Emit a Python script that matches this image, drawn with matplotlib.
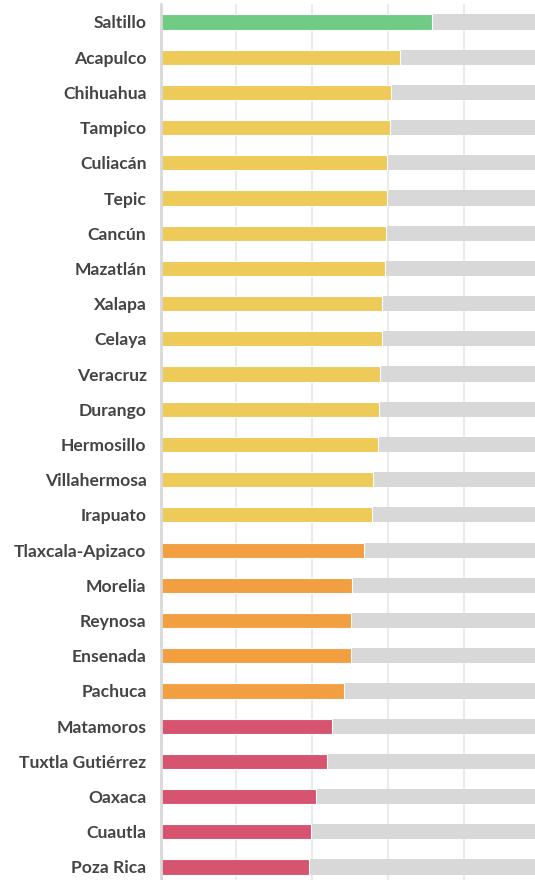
import matplotlib
matplotlib.use("Agg")
import matplotlib.pyplot as plt

# cities, top to bottom
cities = ["Saltillo", "Acapulco", "Chihuahua", "Tampico", "Culiacán", "Tepic",
          "Cancún", "Mazatlán", "Xalapa", "Celaya", "Veracruz", "Durango",
          "Hermosillo", "Villahermosa", "Irapuato", "Tlaxcala-Apizaco", "Morelia",
          "Reynosa", "Ensenada", "Pachuca", "Matamoros", "Tuxtla Gutiérrez",
          "Oaxaca", "Cuautla", "Poza Rica"]

values = [71.5, 63.0, 60.7, 60.5, 59.7, 59.7, 59.4, 59.2, 58.4, 58.4, 57.8, 57.6,
          57.3, 56.0, 55.7, 53.6, 50.5, 50.2, 50.2, 48.4, 45.2, 43.9, 41.0, 39.7, 39.1]

groups = ["high"] + ["mid"] * 14 + ["low"] * 5 + ["lowest"] * 5

group_colors = {"high": "#70cb84", "mid": "#eeca58", "low": "#f19f41", "lowest": "#d6546f"}

max_value = 100

fig = plt.figure(figsize=(5.35, 8.8), dpi=100)
ax = fig.add_axes([160.5 / 535, 0, 1 - 160.5 / 535, 1 - 4 / 880])

y = list(range(len(cities)))
bar_h = 0.43

# grey background bars (full scale)
ax.barh(y, [max_value] * len(cities), height=bar_h, color="#d8d8d8", zorder=2)
# value bars
ax.barh(y, values, height=bar_h, color=[group_colors[g] for g in groups],
        edgecolor="white", linewidth=0.8, zorder=3)

ax.set_xlim(0, (535 - 160.5) / 3.795)
ax.set_ylim(24 + 13 / 35.2, -0.51)

ax.set_xticks([20, 40, 60, 80])
ax.xaxis.grid(True, color="#ebebeb", linewidth=1.5, zorder=1)
ax.set_axisbelow(True)
ax.tick_params(axis="x", length=0, labelbottom=False)

ax.set_yticks(y)
ax.set_yticklabels(cities, fontfamily="Lato", fontweight="bold",
                   fontsize=12.6, color="#444444")
ax.tick_params(axis="y", length=0, pad=10)

for side in ["top", "right", "bottom"]:
    ax.spines[side].set_visible(False)
ax.spines["left"].set_color("#d8d8d8")
ax.spines["left"].set_linewidth(2)
ax.spines["left"].set_zorder(4)

fig.savefig("out.png", dpi=100)
